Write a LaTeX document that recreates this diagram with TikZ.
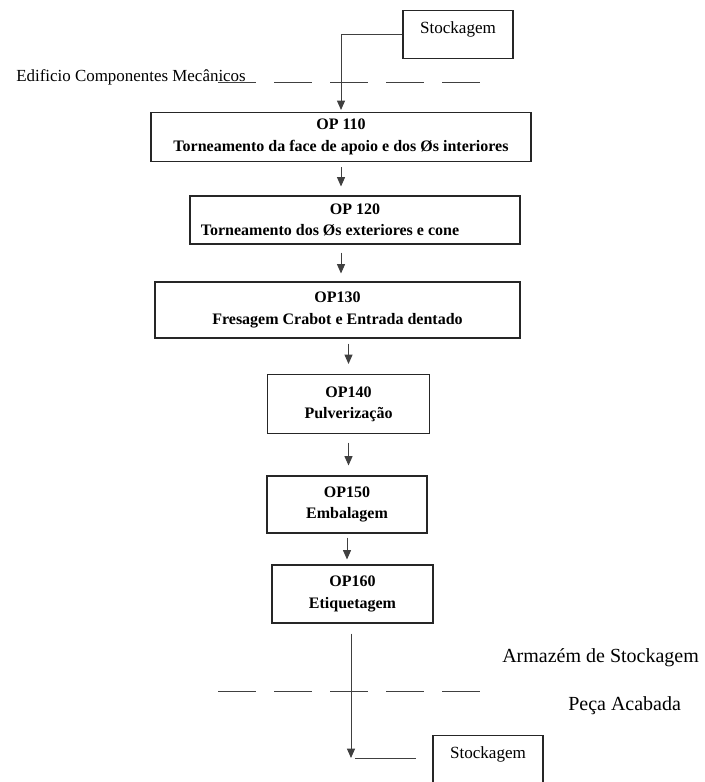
\documentclass[tikz,border=0pt]{standalone}
\usepackage{fontspec}
\setmainfont{Liberation Serif}
\usepackage{tikz}
\usetikzlibrary{arrows.meta}

\begin{document}
\begin{tikzpicture}[x=0.75pt,y=0.75pt,yscale=-1,xscale=1,
opbox/.style={draw=black!85,line width=0.8pt,inner sep=0pt,align=center,font=\bfseries\fontsize{12}{16}\selectfont},
stockbox/.style={draw=black!85,line width=0.8pt,inner sep=0pt,minimum width=82.5pt,text height=17.5pt,text depth=18.5pt,font=\fontsize{12.8}{15}\selectfont},
flow/.style={draw=black!75,line width=0.75pt,-{Triangle[length=7pt,width=6pt]}},
plain/.style={draw=black!75,line width=0.75pt},
zone/.style={draw=black!75,line width=0.75pt,dash pattern=on 28.5pt off 13.5pt},
tag/.style={inner sep=0pt,anchor=base west}]

\useasboundingbox (0,0) rectangle (704,782);


\draw (458,10) node [stockbox,anchor=north] (stockin) {Stockagem};

\draw (341,137) node [opbox,minimum width=285pt,minimum height=36.75pt] (op110) {OP 110\\Torneamento da face de apoio e dos Øs interiores};

\draw (355,220) node [opbox,minimum width=247.5pt,minimum height=36pt] (op120) {OP 120\\Torneamento dos Øs exteriores e cone\rule{37.5pt}{0pt}};

\draw (337.5,310) node [opbox,minimum width=273.75pt,minimum height=42pt] (op130) {OP130\\Fresagem Crabot e Entrada dentado};

\draw (348.5,404) node [opbox,minimum width=121.5pt,minimum height=44.25pt] (op140) {OP140\\Pulverização};

\draw (347,504.5) node [opbox,minimum width=120pt,minimum height=42.75pt] (op150) {OP150\\Embalagem};

\draw (352.5,594) node [opbox,minimum width=120.75pt,minimum height=43.5pt] (op160) {OP160\\Etiquetagem};

\draw (488,735) node [stockbox,anchor=north] (stockout) {Stockagem};


\draw (16,81) node [tag,font=\fontsize{12.7}{15}\selectfont] (edificio) {Edificio Componentes Mecânicos};

\draw (502,662) node [tag,font=\fontsize{15}{18}\selectfont] (armazem) {Armazém de Stockagem};

\draw (568,710) node [tag,font=\fontsize{15}{18}\selectfont] (peca) {Peça Acabada};


\coordinate (zonetopL) at (218,82);

\coordinate (zonetopR) at (480,82);

\coordinate (zonebotL) at (218,691);

\coordinate (zonebotR) at (480,691);

\coordinate (dock) at (351,758);


\draw [zone] (zonetopL) -- (zonetopR);

\draw [zone] (zonebotL) -- (zonebotR);


\draw [flow,shorten >=1.5pt] (stockin.west) -| (op110.north);

\draw [flow,shorten <=3.75pt,shorten >=6.75pt] (op110.south) -- (op110.south |- op120.north);

\draw [flow,shorten <=6pt,shorten >=6pt] (op120.south -| op110.south) -- (op130.north -| op110.south);

\draw [flow,shorten <=3.75pt,shorten >=7.5pt] (op130.south -| op140.north) -- (op140.north);

\draw [flow,shorten <=6.4pt,shorten >=7.5pt] (op140.south) -- (op140.south |- op150.north);

\draw [flow,shorten <=3pt,shorten >=3.75pt] (op150.south) -- (op150.south |- op160.north);

\draw [flow,shorten <=7.5pt] (op160.south -| dock) -- (dock);

\draw [plain,shorten <=3pt,shorten >=12pt] (dock) -- (dock -| stockout.west);

\end{tikzpicture}
\end{document}
